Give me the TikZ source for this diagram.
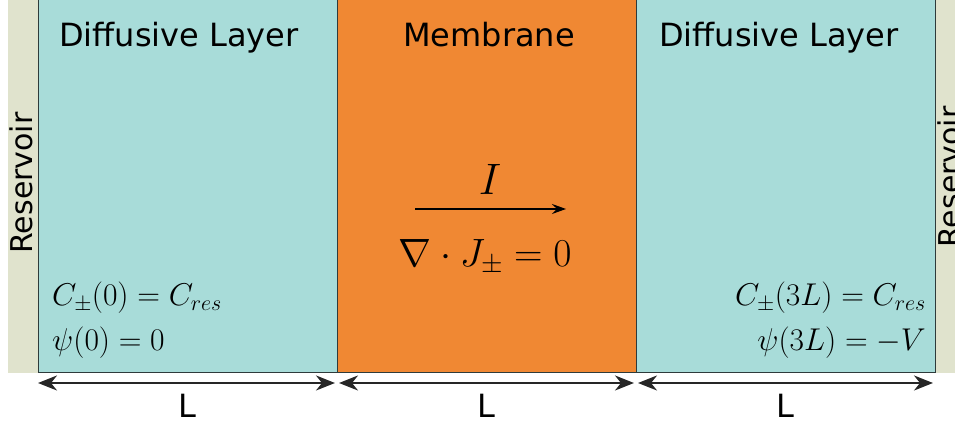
\RequirePackage{fix-cm}
\documentclass[tikz,border=0pt]{standalone}
\usepackage{amsmath,amssymb}
\usepackage{fontspec}
\setsansfont{DejaVu Sans}
\usepackage{xcolor}
\usepackage{tikz}
\usetikzlibrary{arrows.meta,positioning}
\definecolor{layerx}{HTML}{A8DCD9}
\definecolor{membx}{HTML}{F08833}
\definecolor{resx}{HTML}{E0E3CD}
\definecolor{edgex}{HTML}{2E3B3B}
\tikzset{
  region/.style={draw=edgex,line width=1.4pt,anchor=south west,minimum height=380pt,inner sep=0pt},
  resbox/.style={fill=resx,anchor=south west,minimum height=380pt,inner sep=0pt},
  hdr/.style={font=\sffamily\fontsize{32}{32}\selectfont,inner sep=0pt},
  bc/.style={font=\fontsize{31.5}{31.5}\selectfont,inner sep=0pt},
  span/.style={{Stealth[length=19pt,width=15pt,inset=6pt]}-{Stealth[length=19pt,width=15pt,inset=6pt]},line width=2pt,black!85},
  cur/.style={-{Stealth[length=14pt,width=10pt,inset=5pt]},line width=1.3pt,black}
}
\begin{document}
\begin{tikzpicture}[x=1pt,y=1pt]
\useasboundingbox (0,0) rectangle (955,427);
% reservoirs and layers
\node[resbox,minimum width=30pt] (resL) at (8,54) {};
\node[resbox,minimum width=25pt] (resR) at (935,54) {};
\node[region,fill=layerx,minimum width=299pt] (dl1) at (38,54) {};
\node[region,fill=membx,minimum width=299pt] (mem) at (337,54) {};
\node[region,fill=layerx,minimum width=299pt] (dl2) at (636,54) {};
\node[hdr,rotate=90,font=\sffamily\fontsize{30}{30}\selectfont] (rtL) at (21,244) {Reservoir};
\node[hdr,rotate=90,font=\sffamily\fontsize{30}{30}\selectfont] (rtR) at (949,250) {Reservoir};
% headers
\node[hdr,anchor=base] (h1) at (179,380) {Diffusive Layer};
\node[hdr,anchor=base] (h2) at (489,380) {Membrane};
\node[hdr,anchor=base] (h3) at (779,380) {Diffusive Layer};
% boundary conditions
\node[bc,anchor=base west] (bcL1) at (52,121) {$C_{\pm}(0)=C_{res}$};
\node[bc,anchor=base west] (bcL2) at (52,76) {$\psi(0)=0$};
\node[bc,anchor=base east] (bcR1) at (926,121) {$C_{\pm}(3L)=C_{res}$};
\node[bc,anchor=base east] (bcR2) at (926,76) {$\psi(3L)=-V$};
% current through the membrane
\node[font=\fontsize{44}{44}\selectfont,inner sep=0pt,anchor=base] (cI) at (490,232) {$I$};
\coordinate (iA) at (415,218);
\coordinate (iB) at (566,218);
\draw[cur] (iA) -- (iB);
\node[font=\fontsize{39.5}{39.5}\selectfont,inner sep=0pt,anchor=base] (div) at (485,160) {$\nabla\cdot J_{\pm}=0$};
% widths
\coordinate (a0) at (38,44);
\coordinate (a1) at (335,44);
\coordinate (b0) at (339,44);
\coordinate (b1) at (634,44);
\coordinate (c0) at (638,44);
\coordinate (c1) at (933,44);
\draw[span] (a0) -- (a1);
\draw[span] (b0) -- (b1);
\draw[span] (c0) -- (c1);
\node[hdr,anchor=base] (w1) at (187,9) {L};
\node[hdr,anchor=base] (w2) at (486,9) {L};
\node[hdr,anchor=base] (w3) at (785,9) {L};
\end{tikzpicture}
\end{document}
